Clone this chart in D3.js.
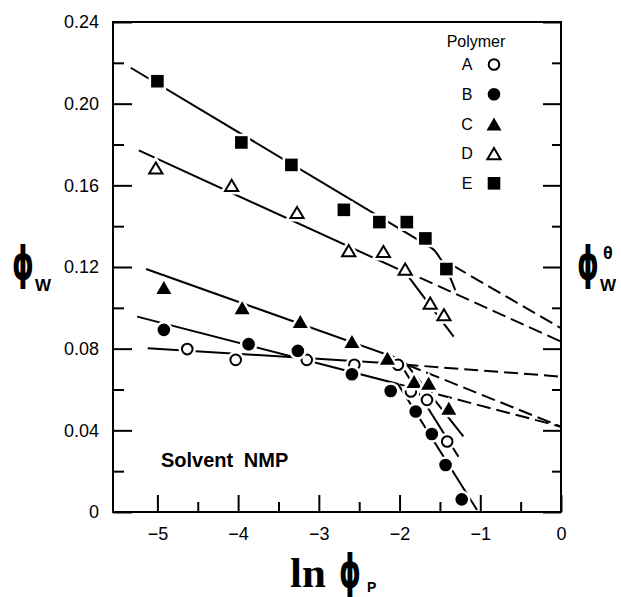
<!DOCTYPE html>
<html>
<head>
<meta charset="utf-8">
<script src="https://cdn.jsdelivr.net/npm/d3@7"></script>
<style>
body { margin: 0; background: #fff; }
svg { display: block; }
text { font-family: "Liberation Sans", Arial, sans-serif; fill: #000; }
</style>
</head>
<body>
<svg id="chart"></svg>
<script>
// values (x = ln phi_p, y = phi_w)
var polymers = ["A", "B", "C", "D", "E"];

var aX = [-4.63, -4.03, -3.15, -2.56, -2.02, -1.86, -1.66, -1.41];
var aY = [0.0798, 0.0745, 0.0745, 0.0721, 0.0721, 0.059, 0.0549, 0.0345];
var bX = [-4.92, -3.87, -3.26, -2.59, -2.11, -1.80, -1.60, -1.43, -1.23];
var bY = [0.0892, 0.0822, 0.0789, 0.0675, 0.0593, 0.0492, 0.0382, 0.023, 0.0062];
var cX = [-4.92, -3.95, -3.23, -2.59, -2.15, -1.82, -1.64, -1.39];
var cY = [0.110, 0.100, 0.0933, 0.0835, 0.0753, 0.0639, 0.0631, 0.0508];
var dX = [-5.02, -4.08, -3.27, -2.63, -2.20, -1.93, -1.62, -1.45];
var dY = [0.1685, 0.160, 0.1467, 0.128, 0.1276, 0.119, 0.1023, 0.0966];
var eX = [-5.0, -3.96, -3.34, -2.69, -2.25, -1.91, -1.68, -1.42];
var eY = [0.211, 0.181, 0.170, 0.148, 0.142, 0.142, 0.134, 0.119];

// fitted lines (solid) and extrapolations to phi_p = 1 (dashed)
var fitA = [[-5.12, 0.0802], [-1.99, 0.0725], [-1.27, 0.0271]];
var fitB = [[-5.25, 0.0957], [-2.02, 0.0627], [-1.04, 0.001]];
var fitC = [[-5.14, 0.119], [-1.95, 0.0742], [-1.21, 0.037]];
var fitD = [[-5.23, 0.1771], [-1.93, 0.1174], [-1.33, 0.0859]];
var fitE = [[-5.33, 0.2176], [-1.64, 0.1302]];
var bendE = [[-1.64, 0.1302], [-1.56, 0.1278], [-1.49, 0.1238], [-1.42, 0.119], [-1.31, 0.1087]];

var extA = [[-1.94, 0.0722], [0, 0.0663]];
var extB = [[-2.0, 0.0625], [0, 0.0418]];
var extC = [[-1.9, 0.072], [0, 0.0418]];
var extD = [[-1.75, 0.1148], [0, 0.0835]];
var extE = [[-1.33, 0.1205], [0, 0.090]];

var xTicks = [-5, -4, -3, -2, -1, 0];
var xMinor = [-4.5, -3.5, -2.5, -1.5, -0.5];
var yTicks = [0, 0.04, 0.08, 0.12, 0.16, 0.20, 0.24];
var yTickLabels = ["0", "0.04", "0.08", "0.12", "0.16", "0.20", "0.24"];
var yMinor = [0.02, 0.06, 0.10, 0.14, 0.18, 0.22];

const svgWidth = 621;
const svgHeight = 597;
const plot = { left: 113, right: 561, top: 22, bottom: 512 };

var svg = d3.select("#chart")
    .attr("width", svgWidth)
    .attr("height", svgHeight);

var x = d3.scaleLinear().domain([-5.55, 0]).range([plot.left, plot.right]);
var y = d3.scaleLinear().domain([0, 0.24]).range([plot.bottom, plot.top]);

// axes with inward ticks
function styleAxis(g) {
    g.select(".domain").remove();
    g.selectAll(".tick line").attr("stroke", "#000").attr("stroke-width", 2);
    g.selectAll("text").style("font-size", "18px").attr("fill", "#000");
}

svg.append("g")
    .attr("transform", "translate(0," + plot.bottom + ")")
    .call(d3.axisBottom(x).tickValues(xTicks).tickSizeInner(-17).tickSizeOuter(0).tickPadding(15)
        .tickFormat(d3.format("d")))
    .call(styleAxis);

svg.append("g")
    .attr("transform", "translate(0," + plot.bottom + ")")
    .call(d3.axisBottom(x).tickValues(xMinor).tickSizeInner(-10).tickSizeOuter(0).tickFormat(""))
    .call(styleAxis);

svg.append("g")
    .attr("transform", "translate(" + plot.left + ",0)")
    .call(d3.axisLeft(y).tickValues(yTicks).tickSizeInner(-19).tickSizeOuter(0).tickPadding(14)
        .tickFormat(function(d, i) { return yTickLabels[i]; }))
    .call(styleAxis);

svg.append("g")
    .attr("transform", "translate(" + plot.left + ",0)")
    .call(d3.axisLeft(y).tickValues(yMinor).tickSizeInner(-11).tickSizeOuter(0).tickFormat(""))
    .call(styleAxis);

svg.append("g")
    .attr("transform", "translate(" + plot.right + ",0)")
    .call(d3.axisRight(y).tickValues(yTicks).tickSizeInner(-18).tickSizeOuter(0).tickFormat(""))
    .call(styleAxis);

svg.append("g")
    .attr("transform", "translate(" + plot.right + ",0)")
    .call(d3.axisRight(y).tickValues(yMinor).tickSizeInner(-9).tickSizeOuter(0).tickFormat(""))
    .call(styleAxis);

svg.append("rect")
    .attr("x", plot.left)
    .attr("y", plot.top)
    .attr("width", plot.right - plot.left)
    .attr("height", plot.bottom - plot.top)
    .attr("fill", "none")
    .attr("stroke", "#000")
    .attr("stroke-width", 2);

// lines
var line = d3.line()
    .x(function(d) { return x(d[0]); })
    .y(function(d) { return y(d[1]); });

var curved = d3.line()
    .x(function(d) { return x(d[0]); })
    .y(function(d) { return y(d[1]); })
    .curve(d3.curveMonotoneX);

[extA, extB, extC, extD, extE].forEach(function(pts) {
    svg.append("path")
        .attr("d", line(pts))
        .attr("fill", "none")
        .attr("stroke", "#000")
        .attr("stroke-width", 2)
        .attr("stroke-dasharray", "14,6");
});

[fitA, fitB, fitC, fitD, fitE].forEach(function(pts) {
    svg.append("path")
        .attr("d", line(pts))
        .attr("fill", "none")
        .attr("stroke", "#000")
        .attr("stroke-width", 2);
});

svg.append("path")
    .attr("d", curved(bendE))
    .attr("fill", "none")
    .attr("stroke", "#000")
    .attr("stroke-width", 2);

// markers
var shapes = {
    A: { shape: "circle", filled: false },
    B: { shape: "circle", filled: true },
    C: { shape: "triangle", filled: true },
    D: { shape: "triangle", filled: false },
    E: { shape: "square", filled: true }
};

function markerPath(shape, filled) {
    var p = d3.path();
    if (shape == "circle") {
        var r = filled ? 6.3 : 5.3;
        p.arc(0, 0, r, 0, 2 * Math.PI);
    } else if (shape == "square") {
        p.rect(-6.3, -6.3, 12.6, 12.6);
    } else {
        var w = filled ? 7.5 : 6.6, h = filled ? 6.5 : 5.6;
        p.moveTo(0, -h);
        p.lineTo(w, h);
        p.lineTo(-w, h);
        p.closePath();
    }
    return p.toString();
}

function drawMarker(g, name, px, py) {
    var s = shapes[name];
    var d = markerPath(s.shape, s.filled);
    g.append("path")
        .attr("d", d)
        .attr("transform", "translate(" + px + "," + py + ")")
        .attr("fill", "#fff")
        .attr("stroke", "#fff")
        .attr("stroke-width", s.filled ? 5 : 7);
    g.append("path")
        .attr("d", d)
        .attr("transform", "translate(" + px + "," + py + ")")
        .attr("fill", s.filled ? "#000" : "#fff")
        .attr("stroke", "#000")
        .attr("stroke-width", s.filled ? 0 : 2);
}

var allX = { A: aX, B: bX, C: cX, D: dX, E: eX };
var allY = { A: aY, B: bY, C: cY, D: dY, E: eY };

var markers = svg.append("g");
polymers.forEach(function(name) {
    allX[name].forEach(function(v, i) {
        drawMarker(markers, name, x(v), y(allY[name][i]));
    });
});

// legend
var legend = svg.append("g");
legend.append("text")
    .attr("x", 476)
    .attr("y", 47)
    .attr("text-anchor", "middle")
    .style("font-size", "16px")
    .text("Polymer");

polymers.forEach(function(name, i) {
    var ly = 64.5 + i * 29.7;
    legend.append("text")
        .attr("x", 467)
        .attr("y", ly)
        .attr("dy", "0.36em")
        .attr("text-anchor", "middle")
        .style("font-size", "16px")
        .text(name);
    drawMarker(legend, name, 494, ly);
});

svg.append("text")
    .attr("x", 161)
    .attr("y", 467)
    .style("font-size", "20px")
    .style("font-weight", "bold")
    .style("word-spacing", "5px")
    .text("Solvent NMP");

// axis titles: narrow, tall phi (stroke through an oval) like the original lettering
function phi(px, py) {
    svg.append("text")
        .attr("transform", "translate(" + px + "," + py + ") scale(0.6,1)")
        .style("font-family", "'DejaVu Sans', sans-serif")
        .style("font-size", "46px")
        .style("font-weight", "bold")
        .text("\u03D5");
}

function sub(px, py, s, size) {
    svg.append("text")
        .attr("x", px)
        .attr("y", py)
        .style("font-size", size + "px")
        .style("font-weight", "bold")
        .text(s);
}

phi(12, 279);
sub(35, 291, "W", 17);

phi(577, 279);
sub(600, 291, "W", 17);
sub(603, 259, "\u03B8", 18);

svg.append("text")
    .attr("x", 290)
    .attr("y", 587)
    .style("font-family", "'Liberation Serif', 'Times New Roman', serif")
    .style("font-size", "43px")
    .style("font-weight", "bold")
    .text("ln");
phi(339, 587);
sub(367, 592, "P", 14);
</script>
</body>
</html>
